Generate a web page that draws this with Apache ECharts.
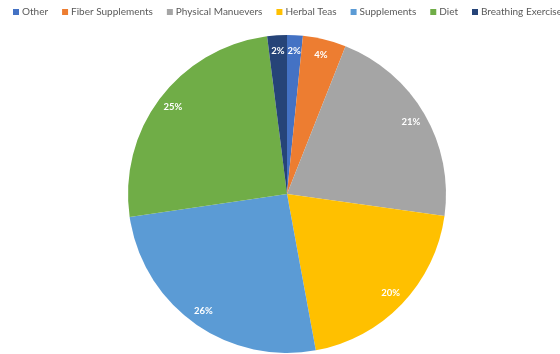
<!DOCTYPE html>
<html>
<head>
<meta charset="utf-8">
<script src="https://cdn.jsdelivr.net/npm/echarts@6/dist/echarts.min.js"></script>
<style>html,body{margin:0;padding:0;background:#fff;}#c{width:560px;height:354px;}</style>
</head>
<body>
<div id="c"></div>
<script>
var categories = ['Other', 'Fiber Supplements', 'Physical Manuevers', 'Herbal Teas', 'Supplements', 'Diet', 'Breathing Exercises'];
var values = [1.6, 4.4, 21.2, 19.9, 25.6, 25.3, 2.0];
var colors = ['#4472C4', '#ED7D31', '#A5A5A5', '#FFC000', '#5B9BD5', '#70AD47', '#264478'];

var data = categories.map(function (c, i) {
  return { name: c, value: values[i], itemStyle: { color: colors[i] } };
});
var labelData = categories.map(function (c, i) {
  return { name: c, value: values[i] };
});

var chart = echarts.init(document.getElementById('c'), null, { renderer: 'canvas' });
chart.setOption({
  animation: false,
  color: colors,
  legend: {
    type: 'plain',
    left: 8,
    top: 2,
    width: 900,
    itemWidth: 6,
    itemHeight: 6,
    itemGap: 14,
    icon: 'rect',
    textStyle: { color: '#595959', fontSize: 10, fontFamily: 'Lato', padding: [0, 0, 0, -2] },
    data: categories
  },
  series: [
    {
      type: 'pie',
      center: [287, 194],
      radius: [0, 159],
      startAngle: 90,
      clockwise: true,
      avoidLabelOverlap: false,
      label: { show: false },
      labelLine: { show: false },
      itemStyle: { borderWidth: 0 },
      emphasis: { disabled: true },
      data: data
    },
    {
      type: 'pie',
      center: [287, 194],
      radius: [122, 159],
      startAngle: 90,
      clockwise: true,
      silent: true,
      avoidLabelOverlap: false,
      percentPrecision: 0,
      itemStyle: { color: 'rgba(0,0,0,0)', borderWidth: 0 },
      label: {
        show: true,
        position: 'inside',
        formatter: '{d}%',
        color: '#ffffff',
        fontWeight: 'bold',
        fontSize: 9.5,
        fontFamily: 'Lato'
      },
      labelLine: { show: false },
      emphasis: { disabled: true },
      data: labelData
    }
  ]
});
</script>
</body>
</html>
